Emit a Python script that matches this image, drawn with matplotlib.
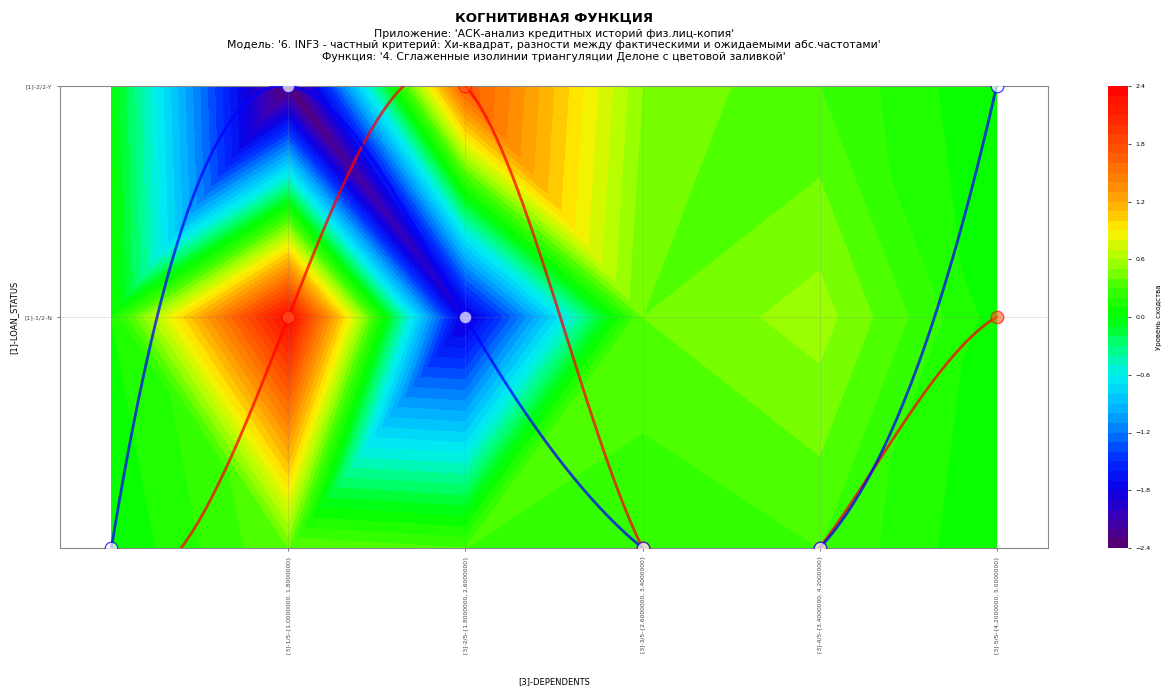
import numpy as np
import matplotlib
matplotlib.use('Agg')
import matplotlib.pyplot as plt
import matplotlib.tri as mtri
from matplotlib.colors import LinearSegmentedColormap

# Data
x_labels = ['[3]-1/5-{1.0000000, 1.8000000}', '[3]-2/5-{1.8000000, 2.6000000}',
            '[3]-3/5-{2.6000000, 3.4000000}', '[3]-4/5-{3.4000000, 4.2000000}',
            '[3]-5/5-{4.2000000, 5.0000000}']
y_labels = ['[1]-1/2-N', '[1]-2/2-Y']
x_pos = [0, 1, 2, 3, 4, 5]
y_pos = [0, 1, 2]

# information values on the grid (rows: y = 0, 1, 2; columns: x = 0..5)
z_row0 = [0.0, 0.4, 0.3, 0.2, 0.3, 0.0]
z_row1 = [0.1, 2.3, -1.9, 0.4, 0.55, 0.05]
z_row2 = [0.0, -2.4, 1.7, 0.5, 0.3, 0.0]

# which diagonal splits each grid cell ('/' or '\'), rows y = 0..1
cell_diag_row0 = ['\\', '/', '/', '\\', '/']
cell_diag_row1 = ['/', '\\', '\\', '/', '\\']

# class chosen for each argument value (two cognitive curves)
red_y = [-0.1, 1, 2, 0, 0, 1]
blue_y = [0, 2, 1, 0, 0, 2]

title = 'КОГНИТИВНАЯ ФУНКЦИЯ'
subtitles = ["Приложение: 'АСК-анализ кредитных историй физ.лиц-копия'",
             "Модель: '6. INF3 - частный критерий: Хи-квадрат, разности между фактическими и ожидаемыми абс.частотами'",
             "Функция: '4. Сглаженные изолинии триангуляции Делоне с цветовой заливкой'"]

# colour scale sampled from the reference colour bar, -2.4 .. 2.4 in steps of 0.3
cbar_colors = ['#5a006e', '#3c00b4', '#0a00e6', '#0028ff', '#0078ff', '#00beff',
               '#00f0f0', '#00ff78', '#00ff00', '#3cff00', '#aaff00', '#fff000',
               '#ffaa00', '#ff7800', '#ff4b00', '#ff2300', '#ff0000']


def spline_nak(xs, ys, n=400):
    # cubic interpolating spline with not-a-knot ends
    xs = np.asarray(xs, float)
    ys = np.asarray(ys, float)
    m = len(xs) - 1
    A = np.zeros((4 * m, 4 * m))
    b = np.zeros(4 * m)
    r = 0
    for i in range(m):
        h = xs[i + 1] - xs[i]
        A[r, 4 * i:4 * i + 4] = [1, 0, 0, 0]
        b[r] = ys[i]
        r += 1
        A[r, 4 * i:4 * i + 4] = [1, h, h ** 2, h ** 3]
        b[r] = ys[i + 1]
        r += 1
    for i in range(m - 1):
        h = xs[i + 1] - xs[i]
        A[r, 4 * i:4 * i + 4] = [0, 1, 2 * h, 3 * h ** 2]
        A[r, 4 * (i + 1):4 * (i + 1) + 4] = [0, -1, 0, 0]
        r += 1
        A[r, 4 * i:4 * i + 4] = [0, 0, 2, 6 * h]
        A[r, 4 * (i + 1):4 * (i + 1) + 4] = [0, 0, -2, 0]
        r += 1
    A[r, 3] = 1
    A[r, 7] = -1
    r += 1
    A[r, 4 * (m - 2) + 3] = 1
    A[r, 4 * (m - 1) + 3] = -1
    c = np.linalg.solve(A, b).reshape(m, 4)
    xx = np.linspace(xs[0], xs[-1], n)
    idx = np.clip(np.searchsorted(xs, xx, side='right') - 1, 0, m - 1)
    t = xx - xs[idx]
    yy = c[idx, 0] + c[idx, 1] * t + c[idx, 2] * t ** 2 + c[idx, 3] * t ** 3
    return xx, yy


# grid points and triangles
gx, gy = np.meshgrid(x_pos, y_pos)
px = gx.ravel().astype(float)
py = gy.ravel().astype(float)
pz = np.array(z_row0 + z_row1 + z_row2)
nx = len(x_pos)
tris = []
for j, diags in enumerate([cell_diag_row0, cell_diag_row1]):
    for i, d in enumerate(diags):
        a = j * nx + i
        bb = a + 1
        cc = a + nx
        dd = cc + 1
        if d == '\\':
            tris += [[a, bb, cc], [bb, dd, cc]]
        else:
            tris += [[a, bb, dd], [a, dd, cc]]
triang = mtri.Triangulation(px, py, tris)

cmap = LinearSegmentedColormap.from_list('cog', cbar_colors)

fig = plt.figure(figsize=(11.7, 6.91), dpi=100)
ax = fig.add_axes([60 / 1170, 1 - 548 / 691, 988 / 1170, 462 / 691])
cax = fig.add_axes([1108 / 1170, 1 - 548 / 691, 20 / 1170, 462 / 691])

levels = np.linspace(-2.4, 2.4, 49)
cf = ax.tricontourf(triang, pz, levels=levels, cmap=cmap)

rx, ry = spline_nak(x_pos, red_y)
bx, by = spline_nak(x_pos, blue_y)
ax.plot(rx, ry, color='red', lw=2, alpha=0.75, zorder=3)
ax.plot(x_pos, red_y, 'o', ms=9, mfc='#ff6020', mec='red', alpha=0.6, zorder=4)
ax.plot(bx, by, color='blue', lw=2, alpha=0.75, zorder=5)
ax.plot(x_pos, blue_y, 'o', ms=9, mfc='white', mec='blue', alpha=0.7, zorder=6)

ax.set_xlim(-0.29, 5.29)
ax.set_ylim(0, 2)
ax.set_xticks(x_pos[1:])
ax.set_xticklabels(x_labels, rotation=90, fontsize=4.3)
ax.set_yticks(y_pos[1:])
ax.set_yticklabels(y_labels, fontsize=4.5)
ax.tick_params(length=2, width=0.5, colors='#444444')
ax.grid(True, alpha=0.25, color='grey', lw=0.6)
for s in ax.spines.values():
    s.set_color('#888888')
ax.set_xlabel('[3]-DEPENDENTS', fontsize=6, labelpad=17)
ax.set_ylabel('[1]-LOAN_STATUS', fontsize=6, labelpad=4)

cb = fig.colorbar(cf, cax=cax, ticks=np.linspace(-2.4, 2.4, 9))
cb.ax.tick_params(labelsize=4.5, length=2, width=0.5)
cb.outline.set_visible(False)
cb.set_label('Уровень сходства', fontsize=5, labelpad=4)

cx = (60 + 1048) / 2 / 1170
fig.text(cx, 1 - 18 / 691, title, ha='center', va='center', fontsize=9.5, fontweight='bold')
for k, s in enumerate(subtitles):
    fig.text(cx, 1 - (34 + 11.5 * k) / 691, s, ha='center', va='center', fontsize=7.8)

fig.savefig('out.png', dpi=100)
